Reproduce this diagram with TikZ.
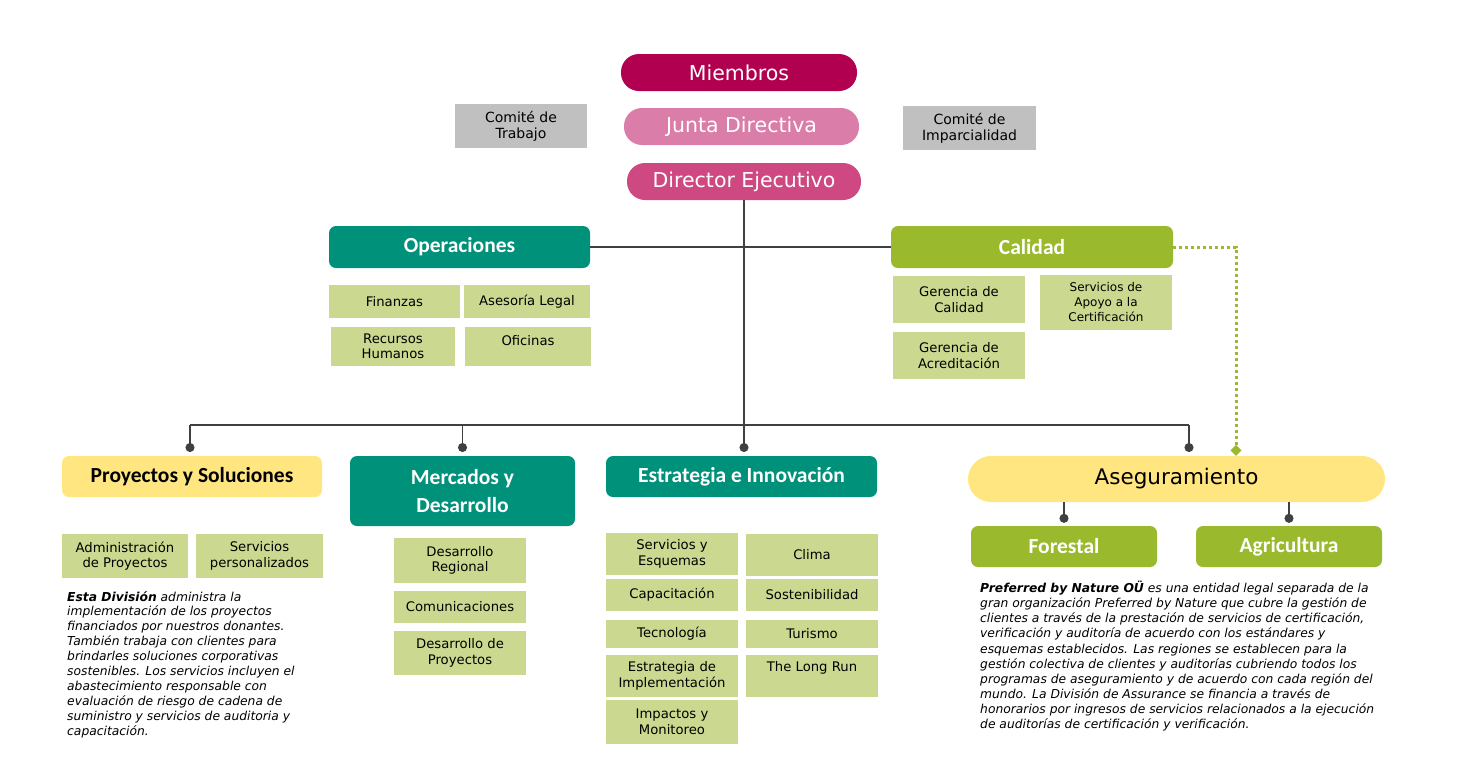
\documentclass[tikz,border=0pt]{standalone}
\usepackage{fontspec}
\setmainfont{DejaVu Sans}
\newfontfamily\headfont{Carlito}
\usetikzlibrary{arrows.meta}

\definecolor{miembros}{RGB}{178,0,80}
\definecolor{junta}{RGB}{218,125,168}
\definecolor{director}{RGB}{206,73,130}
\definecolor{teal}{RGB}{0,145,122}
\definecolor{calgreen}{RGB}{155,185,44}
\definecolor{subgreen}{RGB}{202,217,143}
\definecolor{paleyellow}{RGB}{255,230,128}
\definecolor{comgray}{RGB}{192,192,192}
\definecolor{linkgray}{RGB}{64,64,64}

\tikzset{
  pill/.style={rounded corners=18pt, minimum height=37pt, text=white,
               font=\fontsize{20.5}{24}\selectfont, inner sep=0pt},
  head/.style={rounded corners=7pt, text=white, align=center, inner sep=0pt,
               font=\headfont\bfseries\fontsize{21.5}{28}\selectfont},
  subbox/.style={fill=subgreen, align=center, inner sep=0pt,
                 font=\fontsize{13.2}{15.5}\selectfont},
  combox/.style={fill=comgray, align=center, inner sep=0pt,
                 font=\fontsize{14}{16}\selectfont},
  note/.style={anchor=north west, align=left, inner sep=0pt,
               font=\itshape\fontsize{12.3}{14.9}\selectfont},
  link/.style={draw=linkgray, line width=1.4pt},
  dotend/.style={-{Circle[length=9pt]}},
  dotted link/.style={draw=calgreen, line width=3pt, dash pattern=on 3pt off 3pt,
                      -{Diamond[length=11pt,width=11pt,fill=calgreen]}},
}

\begin{document}
\begin{tikzpicture}[x=1pt,y=-1pt]
    \useasboundingbox (0,0) rectangle (1459,780);

    % gobierno
    \node[pill, fill=miembros, minimum width=236pt] (mie) at (739,72.5) {Miembros};
    \node[pill, fill=junta, minimum width=235pt] (jun) at (741.5,126.5) {Junta Directiva};
    \node[pill, fill=director, minimum width=234pt] (dir) at (744,181.5) {Director Ejecutivo};
    \node[combox, minimum width=132pt, minimum height=44pt] (ctr) at (521,126) {Comité de\\Trabajo};
    \node[combox, minimum width=133pt, minimum height=44pt] (cim) at (969.5,128) {Comité de\\Imparcialidad};

    % operaciones y calidad
    \node[head, fill=teal, minimum width=261pt, minimum height=42pt] (ops) at (459.5,247) {Operaciones};
    \node[head, fill=calgreen, minimum width=282pt, minimum height=42pt] (cal) at (1032,247) {Calidad};
    \node[subbox, minimum width=131pt, minimum height=33pt] (fin) at (394.5,301.5) {Finanzas};
    \node[subbox, minimum width=126pt, minimum height=33pt] (asl) at (527,301.5) {Asesoría Legal};
    \node[subbox, minimum width=124pt, minimum height=39pt] (rrh) at (393,346.5) {Recursos\\Humanos};
    \node[subbox, minimum width=126pt, minimum height=39pt, text depth=13pt] (ofi) at (528,346.5) {Oficinas};
    \node[subbox, minimum width=132pt, minimum height=47pt] (gdc) at (959,299.5) {Gerencia de\\Calidad};
    \node[subbox, minimum width=132pt, minimum height=55pt, font=\fontsize{12}{15}\selectfont] (sac) at (1106,302.5) {Servicios de\\Apoyo a la\\Certificación};
    \node[subbox, minimum width=132pt, minimum height=47pt] (gda) at (959,355.5) {Gerencia de\\Acreditación};

    % divisiones
    \node[head, fill=paleyellow, text=black, minimum width=260pt, minimum height=41pt] (pys) at (192,476.5) {Proyectos y Soluciones};
    \node[head, fill=teal, minimum width=225pt, minimum height=70pt] (myd) at (462.5,491) {Mercados y\\Desarrollo};
    \node[head, fill=teal, minimum width=271pt, minimum height=41pt] (eei) at (741.5,476.5) {Estrategia e Innovación};
    \node[fill=paleyellow, rounded corners=23pt, minimum width=417pt, minimum height=46pt,
          inner sep=0pt, font=\fontsize{21.5}{24}\selectfont] (asg) at (1176.5,479) {Aseguramiento};
    \node[head, fill=calgreen, minimum width=186pt, minimum height=41pt] (for) at (1064,546.5) {Forestal};
    \node[head, fill=calgreen, minimum width=186pt, minimum height=41pt] (agr) at (1289,546.5) {Agricultura};

    % proyectos y soluciones
    \node[subbox, minimum width=126pt, minimum height=44pt] (adp) at (125,556) {Administración\\de Proyectos};
    \node[subbox, minimum width=127pt, minimum height=44pt] (spe) at (259.5,556) {Servicios\\personalizados};
    \node[note] (txtpys) at (67,591) {\textbf{Esta División} administra la\\
        implementación de los proyectos\\
        financiados por nuestros donantes.\\
        También trabaja con clientes para\\
        brindarles soluciones corporativas\\
        sostenibles. Los servicios incluyen el\\
        abastecimiento responsable con\\
        evaluación de riesgo de cadena de\\
        suministro y servicios de auditoria y\\
        capacitación.};

    % mercados y desarrollo
    \node[subbox, minimum width=132pt, minimum height=45pt] (dre) at (460,560.5) {Desarrollo\\Regional};
    \node[subbox, minimum width=132pt, minimum height=32pt] (com) at (460,607) {Comunicaciones};
    \node[subbox, minimum width=132pt, minimum height=44pt] (ddp) at (460,653) {Desarrollo de\\Proyectos};

    % estrategia e innovacion
    \node[subbox, minimum width=132pt, minimum height=42pt] (sye) at (672,554) {Servicios y\\Esquemas};
    \node[subbox, minimum width=132pt, minimum height=32pt] (cap) at (672,595) {Capacitación};
    \node[subbox, minimum width=132pt, minimum height=28pt] (tec) at (672,634) {Tecnología};
    \node[subbox, minimum width=132pt, minimum height=42pt] (edi) at (672,676) {Estrategia de\\Implementación};
    \node[subbox, minimum width=132pt, minimum height=44pt] (iym) at (672,722) {Impactos y\\Monitoreo};
    \node[subbox, minimum width=132pt, minimum height=42pt] (cli) at (812,555) {Clima};
    \node[subbox, minimum width=132pt, minimum height=32pt] (sos) at (812,595) {Sostenibilidad};
    \node[subbox, minimum width=132pt, minimum height=28pt] (tur) at (812,634) {Turismo};
    \node[subbox, minimum width=132pt, minimum height=42pt, text depth=19pt] (tlr) at (812,676) {The Long Run};

    % aseguramiento
    \node[note, font=\itshape\fontsize{12.3}{15.1}\selectfont] (txtasg) at (980,581) {\textbf{Preferred by Nature OÜ} es una entidad legal separada de la\\
        gran organización Preferred by Nature que cubre la gestión de\\
        clientes a través de la prestación de servicios de certificación,\\
        verificación y auditoría de acuerdo con los estándares y\\
        esquemas establecidos. Las regiones se establecen para la\\
        gestión colectiva de clientes y auditorías cubriendo todos los\\
        programas de aseguramiento y de acuerdo con cada región del\\
        mundo. La División de Assurance se financia a través de\\
        honorarios por ingresos de servicios relacionados a la ejecución\\
        de auditorías de certificación y verificación.};

    % conectores
    \coordinate (busL) at (190,425);
    \coordinate (busR) at (1189,425);
    \coordinate (dotY) at (0,452);
    \coordinate (bend) at (1236,247);
    \draw[link] (dir.south) -- (dir.south |- busL);
    \draw[link] (ops.east) -- (cal.west);
    \draw[link] (busL) -- (busR);
    \draw[link, dotend] (busL) -- (busL |- dotY);
    \draw[link, dotend] (myd.north |- busL) -- (myd.north |- dotY);
    \draw[link, dotend] (dir.south |- busL) -- (dir.south |- dotY);
    \draw[link, dotend] (busR) -- (busR |- dotY);
    \draw[link, dotend] (for.north |- asg.south) -- ([yshift=3pt]for.north);
    \draw[link, dotend] (agr.north |- asg.south) -- ([yshift=3pt]agr.north);
    \draw[dotted link] (cal.east) -- (bend) -- (bend |- asg.north);
\end{tikzpicture}
\end{document}
